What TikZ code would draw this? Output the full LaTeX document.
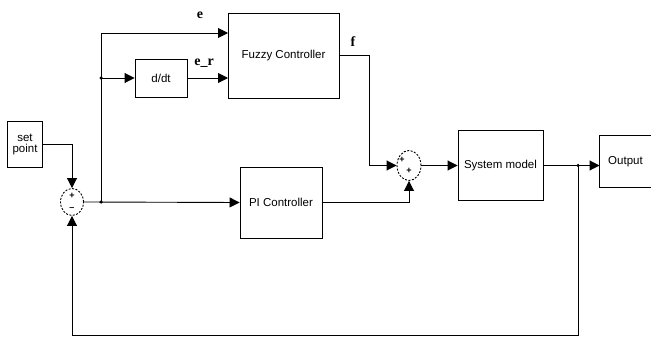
\documentclass[tikz,border=0pt]{standalone}
\usepackage{fontspec}
\setmainfont{Liberation Serif}
\setsansfont{Liberation Sans}
\usetikzlibrary{arrows.meta,shapes.geometric}
\begin{document}
\begin{tikzpicture}[x=1pt,y=-1pt,
  line width=0.9pt,
  blk/.style={draw,rectangle,inner sep=0pt,font=\sffamily\fontsize{11.5}{13}\selectfont,align=center},
  sumnode/.style={draw,dash pattern=on 2pt off 1.5pt,ellipse,inner sep=0pt},
  sig/.style={font=\bfseries\fontsize{14}{14}\selectfont},
  pm/.style={font=\sffamily\bfseries\fontsize{9}{9}\selectfont,inner sep=0pt},
  arr/.style={-{Triangle[length=10pt,width=10pt]}},
  dot/.style={circle,fill,inner sep=0pt,minimum size=3.5pt}]
\useasboundingbox (0,0) rectangle (651,337);
% blocks
\node[blk,minimum width=35,minimum height=46] (sp) at (25,144.5) {set\\[-2pt]point};
\node[sumnode,minimum width=23,minimum height=27] (s1) at (72,202) {};
\node[pm] (s1p) at (72,196) {+};
\node[pm] (s1m) at (72,209.5) {–};
\node[blk,minimum width=111,minimum height=85] (fz) at (283.5,55.5) {Fuzzy Controller};
\node[blk,minimum width=52,minimum height=38] (dd) at (161,78) {d/dt};
\node[blk,minimum width=82,minimum height=71] (pi) at (281,202.5) {PI Controller};
\node[sumnode,minimum width=24,minimum height=30] (s2) at (409,165.5) {};
\node[pm] (s2a) at (402,160) {+};
\node[pm] (s2b) at (409,171) {+};
\node[blk,minimum width=85,minimum height=70] (sm) at (500.5,165.5) {System model};
\node[blk,draw=none,minimum width=51,minimum height=51] (out) at (625.5,161.5) {Output};
\draw (out.north east) -- (out.north west) -- (out.south west) -- (out.south east);
% labels
\node[sig] (le) at (200,15) {e};
\node[sig] (lf) at (353,42) {f};
\node[sig] (ler) at (204,63) {e\_r};
% junctions
\node[dot] (j1) at (101,202) {};
\node[dot] (j2) at (101,78) {};
\node[dot] (j3) at (578,165.5) {};
\coordinate (fzin1) at (228,33);
\coordinate (fzin2) at (228,78);
\coordinate (k) at (369,165.5);
\coordinate (fb) at (72,335);
% connectors
\draw[arr] (sp.east) -| (s1.north);
\draw[arr] (s1.east) -- (pi.west);
\draw[arr] (j1.center) |- (fzin1);
\draw[arr] (j2.center) -- (dd.west);
\draw[arr] (dd.east) -- (fzin2);
\draw[arr] (fz.east) -| (k) -- (s2.west);
\draw[arr] (pi.east) -| (s2.south);
\draw[arr] (s2.east) -- (sm.west);
\draw[arr] (sm.east) -- (sm.east -| out.west);
\draw[arr] (j3.center) |- (fb) -- (s1.south);
\end{tikzpicture}
\end{document}
